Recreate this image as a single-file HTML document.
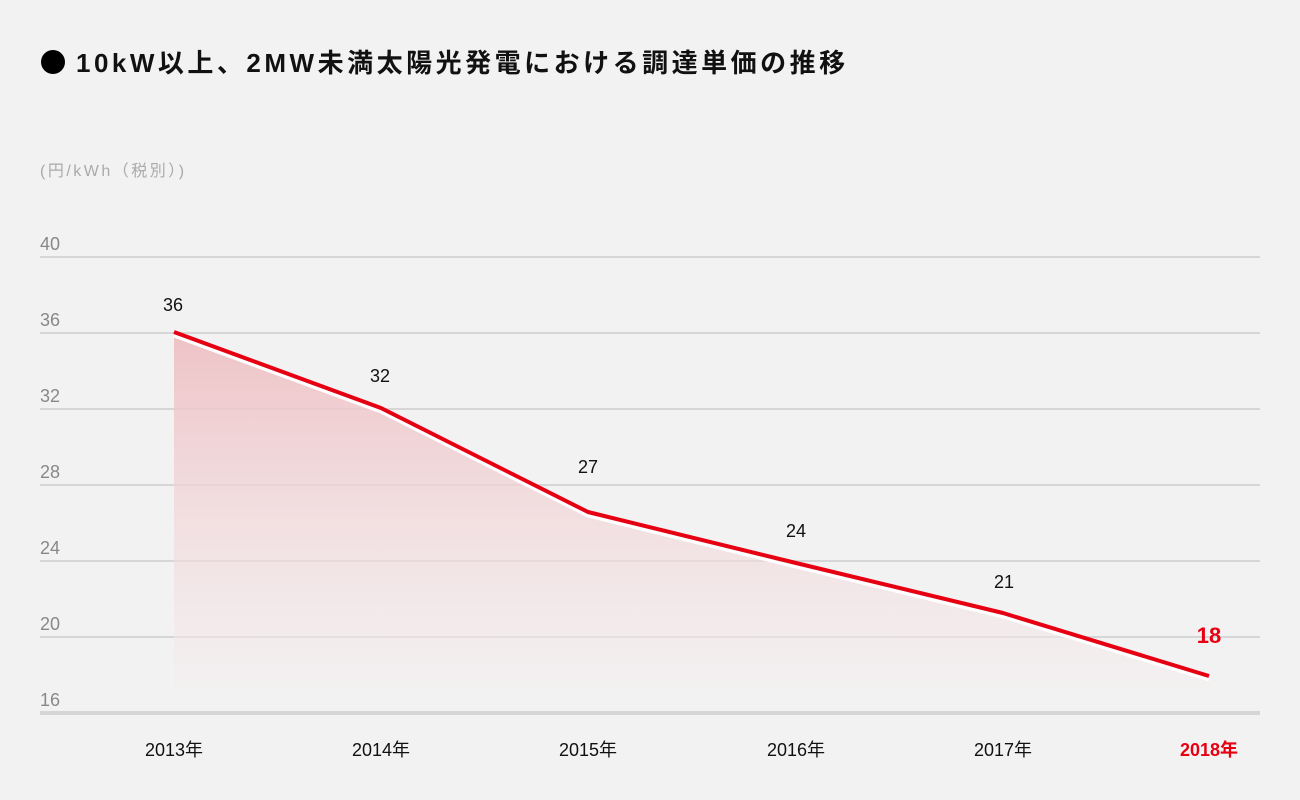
<!DOCTYPE html>
<html><head><meta charset="utf-8"><style>
html,body{margin:0;padding:0;background:#f2f2f2;}
svg{display:block;font-family:"Liberation Sans","Noto Sans CJK JP",sans-serif;}
</style></head><body>
<svg width="1300" height="800" viewBox="0 0 1300 800">
<defs>
<linearGradient id="g" gradientUnits="userSpaceOnUse" x1="0" y1="330" x2="0" y2="690">
<stop offset="0" stop-color="#eebcc0" stop-opacity="0.9"/>
<stop offset="1" stop-color="#f4eeef" stop-opacity="0.5"/>
</linearGradient>
</defs>
<rect width="1300" height="800" fill="#f2f2f2"/>
<circle cx="53" cy="62" r="12" fill="#000"/>
<text x="76" y="72" font-size="26" font-weight="bold" fill="#111" letter-spacing="3.5">10kW以上、2MW未満太陽光発電における調達単価の推移</text>
<text x="40" y="176" font-size="16" fill="#aaa" letter-spacing="2.5">(円/kWh（税別）)</text>
<g stroke="#d6d6d6" stroke-width="2">
<line x1="40" y1="257" x2="1260" y2="257"/>
<line x1="40" y1="333" x2="1260" y2="333"/>
<line x1="40" y1="409" x2="1260" y2="409"/>
<line x1="40" y1="485" x2="1260" y2="485"/>
<line x1="40" y1="561" x2="1260" y2="561"/>
<line x1="40" y1="637" x2="1260" y2="637"/>
</g>
<polygon points="174,336 381,412 588,516 796,567 1003,617 1209,680 1209,688 174,688" fill="url(#g)"/>
<line x1="40" y1="713" x2="1260" y2="713" stroke="#d6d6d6" stroke-width="4"/>
<g font-size="18" fill="#888">
<text x="40" y="250">40</text><text x="40" y="326">36</text><text x="40" y="402">32</text>
<text x="40" y="478">28</text><text x="40" y="554">24</text><text x="40" y="630">20</text><text x="40" y="706">16</text>
</g>
<polyline points="174,336 381,412 588,516 796,567 1003,617 1209,680" fill="none" stroke="#fff" stroke-width="3"/>
<polyline points="174,332 381,408 588,512 796,563 1003,613 1209,676" fill="none" stroke="#e60012" stroke-width="4" stroke-linejoin="round"/>
<g font-size="18" fill="#111" text-anchor="middle">
<text x="173" y="311">36</text><text x="380" y="382">32</text><text x="588" y="473">27</text>
<text x="796" y="537">24</text><text x="1004" y="588">21</text>
</g>
<text x="1209" y="643" font-size="22" font-weight="bold" fill="#e60012" text-anchor="middle">18</text>
<g font-size="18" fill="#111" text-anchor="middle">
<text x="174" y="756">2013年</text><text x="381" y="756">2014年</text><text x="588" y="756">2015年</text>
<text x="796" y="756">2016年</text><text x="1003" y="756">2017年</text>
</g>
<text x="1209" y="756" font-size="18" font-weight="bold" fill="#e60012" text-anchor="middle">2018年</text>
</svg>
</body></html>
